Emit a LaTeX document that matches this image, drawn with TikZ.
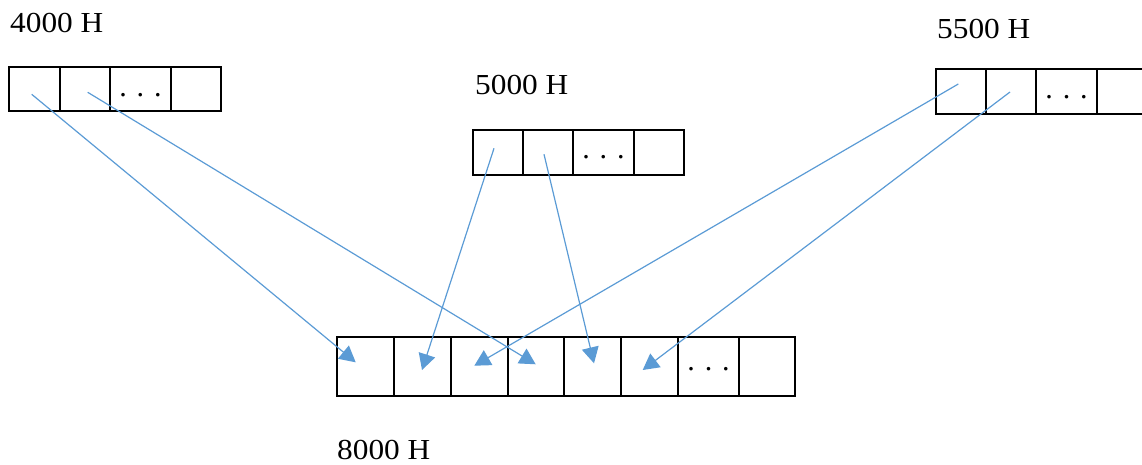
\documentclass[tikz,border=0pt]{standalone}
\usepackage{fontspec}
\setmainfont{Liberation Serif}
\usetikzlibrary{arrows.meta}
\definecolor{arrowblue}{HTML}{5B9BD5}
\tikzset{
  cell/.style={draw=black, line width=1.9pt, rectangle, inner sep=0pt, outer sep=0pt, anchor=north west},
  addr/.style={anchor=base west, inner sep=0pt, font=\fontsize{29}{33}\selectfont},
  dots/.style={anchor=base, inner sep=0pt, font=\fontsize{30}{34}\selectfont},
  link/.style={draw=arrowblue, line width=1.2pt, -{Triangle[length=16pt,width=17pt]}}
}
\newcommand{\wide}[1]{\scalebox{1.08}[1]{#1}}
\begin{document}
\begin{tikzpicture}[x=1pt,y=-1pt]
\useasboundingbox (0,0) rectangle (1142,465);
% labels
\node[addr] (l4000) at (10,33) {\wide{4000 H}};
\node[addr] (l5000) at (475,95) {\wide{5000 H}};
\node[addr] (l5500) at (937,39) {\wide{5500 H}};
\node[addr] (l8000) at (337,459.5) {\wide{8000 H}};
% box 4000 H
\node[cell, minimum width=51pt, minimum height=44pt] (a1) at (9,67) {};
\node[cell, minimum width=50pt, minimum height=44pt] (a2) at (60,67) {};
\node[cell, minimum width=61pt, minimum height=44pt] (a3) at (110,67) {};
\node[cell, minimum width=50pt, minimum height=44pt] (a4) at (171,67) {};
\node[dots] (ad) at (140.5,97) {. . .};
% box 5000 H
\node[cell, minimum width=50pt, minimum height=45pt] (b1) at (473,130) {};
\node[cell, minimum width=50pt, minimum height=45pt] (b2) at (523,130) {};
\node[cell, minimum width=61pt, minimum height=45pt] (b3) at (573,130) {};
\node[cell, minimum width=50pt, minimum height=45pt] (b4) at (634,130) {};
\node[dots] (bd) at (603.5,159) {. . .};
% box 5500 H
\node[cell, minimum width=50pt, minimum height=45pt] (c1) at (936,69) {};
\node[cell, minimum width=50pt, minimum height=45pt] (c2) at (986,69) {};
\node[cell, minimum width=61pt, minimum height=45pt] (c3) at (1036,69) {};
\node[cell, minimum width=50pt, minimum height=45pt] (c4) at (1097,69) {};
\node[dots] (cd) at (1066.5,99) {. . .};
% box 8000 H
\node[cell, minimum width=57pt, minimum height=59pt] (d1) at (337,337) {};
\node[cell, minimum width=57pt, minimum height=59pt] (d2) at (394,337) {};
\node[cell, minimum width=57pt, minimum height=59pt] (d3) at (451,337) {};
\node[cell, minimum width=56pt, minimum height=59pt] (d4) at (508,337) {};
\node[cell, minimum width=57pt, minimum height=59pt] (d5) at (564,337) {};
\node[cell, minimum width=57pt, minimum height=59pt] (d6) at (621,337) {};
\node[cell, minimum width=61pt, minimum height=59pt] (d7) at (678,337) {};
\node[cell, minimum width=56pt, minimum height=59pt] (d8) at (739,337) {};
\node[dots] (dd) at (708.5,370) {. . .};
% arrow ends
\coordinate (sa1) at (31.7,94.3);
\coordinate (sa2) at (87.7,92.3);
\coordinate (sb1) at (494,148.3);
\coordinate (sb2) at (544,154.3);
\coordinate (sc1) at (958.3,84);
\coordinate (sc2) at (1010,92);
\coordinate (ta1) at (355.7,362.3);
\coordinate (tb1) at (422,370);
\coordinate (tc1) at (474.3,365.7);
\coordinate (ta2) at (535.7,364.3);
\coordinate (tb2) at (594,363.3);
\coordinate (tc2) at (642.7,370);
\draw[link] (sa1) -- (ta1);
\draw[link] (sa2) -- (ta2);
\draw[link] (sb1) -- (tb1);
\draw[link] (sb2) -- (tb2);
\draw[link] (sc1) -- (tc1);
\draw[link] (sc2) -- (tc2);
\end{tikzpicture}
\end{document}
